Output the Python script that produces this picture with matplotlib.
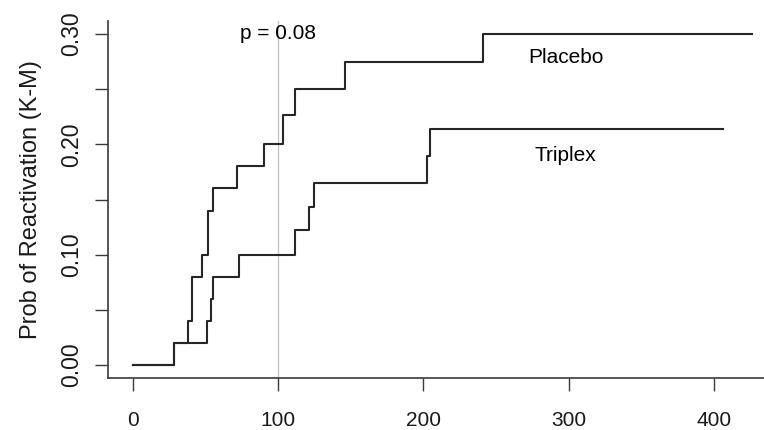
#!/usr/bin/env python3
"""Kaplan-Meier style cumulative reactivation curves, Placebo vs Triplex."""

import matplotlib

matplotlib.use("Agg")
import matplotlib.pyplot as plt

# step times (days) and cumulative probability after each step
placebo_t = [0, 28.7, 37.8, 40.8, 47.7, 51.6, 55.3, 71.8, 90.6, 103.4, 111.4, 146.3, 241.0, 426.0]
placebo_p = [0.0, 0.02, 0.04, 0.08, 0.10, 0.14, 0.16, 0.18, 0.20, 0.227, 0.25, 0.275, 0.30, 0.30]
triplex_t = [0, 28.7, 51.2, 54.1, 55.3, 72.9, 111.9, 121.0, 124.5, 202.5, 204.3, 406.0]
triplex_p = [0.0, 0.02, 0.04, 0.06, 0.08, 0.10, 0.122, 0.143, 0.165, 0.189, 0.214, 0.214]

x_ticks = [0, 100, 200, 300, 400]
y_major = [0.0, 0.10, 0.20, 0.30]
y_minor = [0.05, 0.15, 0.25]
y_labels = ["0.00", "0.10", "0.20", "0.30"]

cutoff_day = 100
p_text = "p = 0.08"
ylabel = "Prob of Reactivation (K-M)"

plt.rcParams["font.family"] = ["Liberation Sans", "DejaVu Sans"]

fig = plt.figure(figsize=(7.64, 4.30), dpi=100)
ax = fig.add_axes([108 / 764, 1 - 378.3 / 430, 1 - 108 / 764, (378.3 - 20.7) / 430])

line_kw = dict(where="post", color="#262626", lw=1.5)
ax.step(placebo_t, placebo_p, **line_kw)
ax.step(triplex_t, triplex_p, **line_kw)
ax.axvline(cutoff_day, color="#c8c8c8", lw=1.0, zorder=0)

ax.text(cutoff_day, 0.30, p_text, ha="center", va="center", fontsize=15)
ax.text(298, 0.279, "Placebo", ha="center", va="center", fontsize=15)
ax.text(298, 0.190, "Triplex", ha="center", va="center", fontsize=15)

ax.set_xlim(-17, 434.5)
ax.set_ylim(-0.012, 0.312)
ax.set_xticks(x_ticks)
ax.set_xticklabels([str(v) for v in x_ticks])
ax.set_yticks(y_major)
ax.set_yticklabels(y_labels, rotation=90, va="center")
ax.set_yticks(y_minor, minor=True)

for side in ("top", "right"):
    ax.spines[side].set_visible(False)
for side in ("left", "bottom"):
    ax.spines[side].set_color("#3a3a3a")
    ax.spines[side].set_linewidth(1.2)

ax.tick_params(which="both", direction="out", length=9.5, width=1.0, color="#3a3a3a",
               labelcolor="#1a1a1a")
ax.tick_params(axis="x", labelsize=15, pad=14)
ax.tick_params(axis="y", labelsize=16.5, pad=8.5)
ax.set_ylabel(ylabel, fontsize=17, color="#1a1a1a", labelpad=13)

fig.savefig("out.png", dpi=100)
